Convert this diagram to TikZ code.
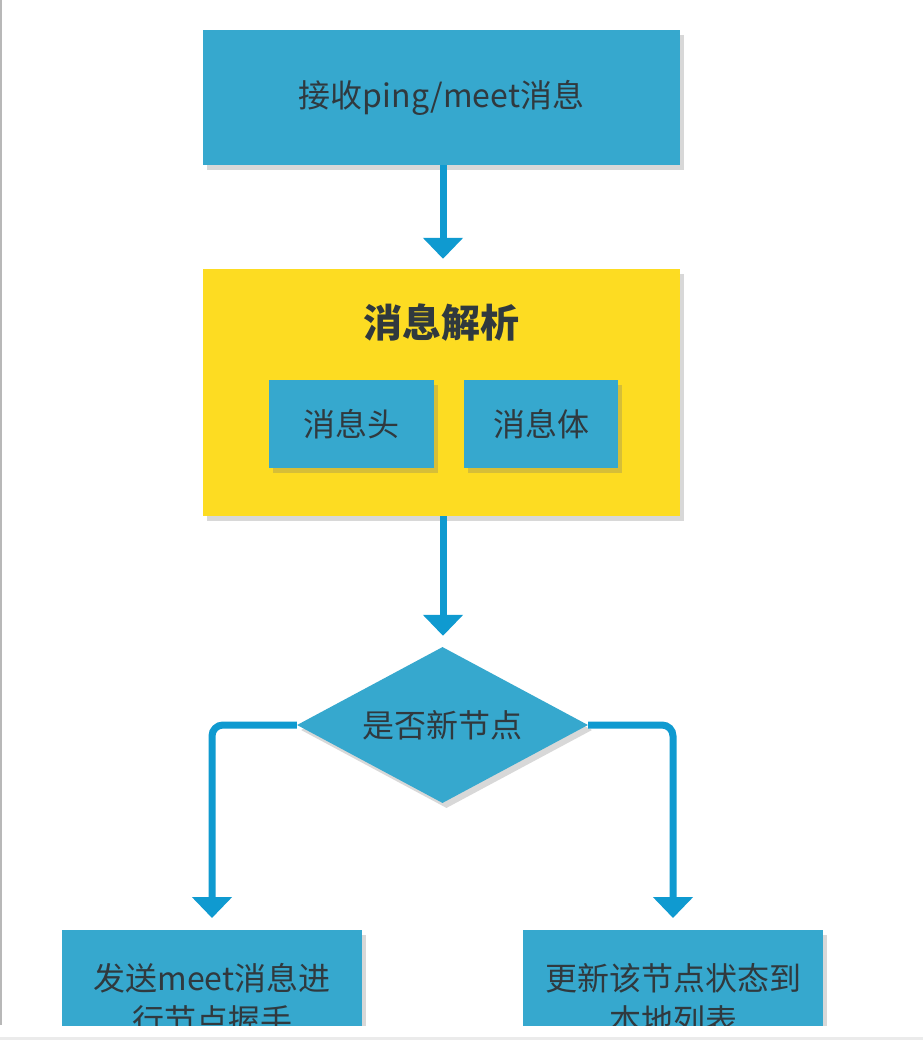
\documentclass[tikz,border=0pt]{standalone}
\usepackage{fontspec}
\setmainfont{Noto Sans CJK SC}
\usetikzlibrary{arrows.meta,shapes.geometric,shadows}
\definecolor{boxblue}{HTML}{36A8CE}
\definecolor{lineblue}{HTML}{0F9AD0}
\definecolor{ylw}{HTML}{FDDC22}
\definecolor{txt}{HTML}{30393E}
\begin{document}
\begin{tikzpicture}[x=1pt,y=-1pt,
  shade/.style={drop shadow={shadow xshift=4pt, shadow yshift=-5pt, opacity=0.28, fill=black!55}},
  bluebox/.style={shade, fill=boxblue, draw=none, inner sep=0pt, text=txt, align=center,
    font=\fontsize{32}{42}\selectfont},
  ylwbox/.style={shade, fill=ylw, draw=none, inner sep=0pt},
  flow/.style={draw=lineblue, line width=7pt, -{Triangle[width=39pt,length=21pt]}},
]
\useasboundingbox (0,0) rectangle (923,1040);
\fill[white] (0,0) rectangle (923,1040);
\fill[black!28] (0,0) rectangle (1.6,1025);
\fill[black!8] (0,1037) rectangle (923,1040);
\begin{scope}
\clip (0,0) rectangle (923,1025);
\node[bluebox, minimum width=477pt, minimum height=135pt] (top) at (441.5,97.5) {接收ping/meet消息};
\node[ylwbox, minimum width=477pt, minimum height=247pt] (parse) at (441.5,392.5) {};
\node[text=txt, font=\bfseries\fontsize{39}{40}\selectfont, inner sep=0pt] (title) at (441.5,323) {消息解析};
\node[bluebox, minimum width=165pt, minimum height=88pt] (head) at (351.5,424) {消息头};
\node[bluebox, minimum width=154pt, minimum height=88pt] (body) at (541,424) {消息体};
\node[bluebox, diamond, shape aspect=1.865, minimum width=291pt, minimum height=156pt] (dec) at (442.5,725) {是否新节点};
\node[bluebox, minimum width=300pt, minimum height=138pt, anchor=north] (left) at (212,930) {发送meet消息进\\行节点握手};
\node[bluebox, minimum width=300pt, minimum height=138pt, anchor=north] (right) at (673,930) {更新该节点状态到\\本地列表};
\draw[flow, shorten >=10pt] (top.south -| 443,0) -- (parse.north -| 443,0);
\draw[flow, shorten >=11pt] (parse.south -| 443,0) -- (dec.north -| 443,0);
\draw[flow, rounded corners=11pt, shorten >=12pt] (dec.west) -| (left.north);
\draw[flow, rounded corners=11pt, shorten >=12pt] (dec.east) -| (right.north);
\end{scope}
\end{tikzpicture}
\end{document}
